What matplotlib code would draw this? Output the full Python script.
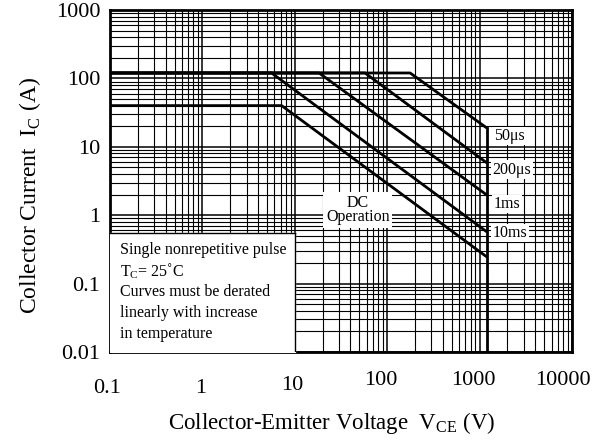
import matplotlib
matplotlib.use('Agg')
import matplotlib.pyplot as plt
import numpy as np

plt.rcParams['font.family'] = ['Liberation Serif', 'DejaVu Serif']
plt.rcParams['mathtext.fontset'] = 'custom'
plt.rcParams['mathtext.rm'] = 'Liberation Serif'

# SOA curves: (V_CE, I_C) corner points
v_max = 1200
curve_names = ['50\u03bcs', '200\u03bcs', '1ms', '10ms', 'DC']
curve_v = [[0.1, 177, v_max],
           [0.1, 57.5, v_max],
           [0.1, 18.3, v_max],
           [0.1, 5.6, v_max],
           [0.1, 7.2, v_max]]
curve_i = [[120, 120, 18.8],
           [120, 120, 5.8],
           [120, 120, 1.97],
           [120, 120, 0.57],
           [40, 40, 0.245]]
xticks = [0.1, 1, 10, 100, 1000, 10000]
xtick_labels = ['0.1', '1', '10', '100', '1000', '10000']
yticks = [0.01, 0.1, 1, 10, 100, 1000]
ytick_labels = ['0.01', '0.1', '1', '10', '100', '1000']

fig = plt.figure(figsize=(6.15, 4.42), dpi=100)
ax = fig.add_axes([0.1789, 0.2036, 0.7512, 0.7738])
ax.set_xscale('log')
ax.set_yscale('log')
ax.set_xlim(0.1, 10000)
ax.set_ylim(0.01, 1000)

# dense graph-paper grid
ax.grid(True, which='major', color='black', lw=1.1)
ax.grid(True, which='minor', color='black', lw=0.8)
ax.tick_params(which='both', length=0)
for s in ax.spines.values():
    s.set_linewidth(2)

for v, i in zip(curve_v, curve_i):
    ax.plot(v, i, color='black', lw=2, solid_capstyle='butt', zorder=4)
ax.plot([v_max, v_max], [0.01, 18.8], color='black', lw=2, zorder=4)

# tick labels (the x labels sit a little unevenly in the original)
ax.set_xticks(xticks)
ax.set_xticklabels([])
ax.set_yticks(yticks)
ax.set_yticklabels(ytick_labels, fontsize=16)
ax.tick_params(axis='y', pad=7)
x_shift = [0.93, 0.95, 0.94, 0.86, 0.86, 0.8]
y_offsets = [-0.108, -0.108, -0.098, -0.082, -0.082, -0.082]
for xv, lab, sh, off in zip(xticks, xtick_labels, x_shift, y_offsets):
    ax.text(xv * sh, off, lab, transform=ax.get_xaxis_transform(), ha='center',
            va='center', fontsize=16)

fig.text(0.049, 0.559, 'Collector Current  I$_\\mathrm{C}$ (A)', rotation=90,
         ha='center', va='center', fontsize=17)
fig.text(0.54, 0.043, 'Collector-Emitter Voltage  V$_\\mathrm{CE}$ (V)',
         ha='center', va='center', fontsize=16.5)

# note box
ax.fill_between([0.1, 10], 0.01, 0.55, color='white', zorder=5)
ax.plot([10, 10], [0.01, 0.55], color='black', lw=1, zorder=5)
ax.plot([0.1, 10], [0.55, 0.55], color='black', lw=1, zorder=5)
note = ['Single nonrepetitive pulse',
        'T$_\\mathrm{C}$= 25\u02daC',
        'Curves must be derated',
        'linearly with increase',
        'in temperature']
for k, line in enumerate(note):
    ax.text(0.0215, 0.298 - k * 0.0614, line, transform=ax.transAxes,
            fontsize=11.5, va='center', ha='left', zorder=6)

# curve labels
box = dict(facecolor='white', edgecolor='none', pad=1)
ax.text(48, 1.19, 'DC\nOperation', ha='center', va='center', fontsize=11.5,
        linespacing=0.85, zorder=6,
        bbox=dict(facecolor='white', edgecolor='none', pad=2))
label_pos = [(1420, 14.4), (1380, 4.6), (1420, 1.46), (1380, 0.55)]
for name, (lx, ly) in zip(curve_names[:4], label_pos):
    ax.text(lx, ly, name, ha='left', va='center', fontsize=11.5, zorder=6,
            bbox=box)

fig.savefig('out.png', dpi=100)
